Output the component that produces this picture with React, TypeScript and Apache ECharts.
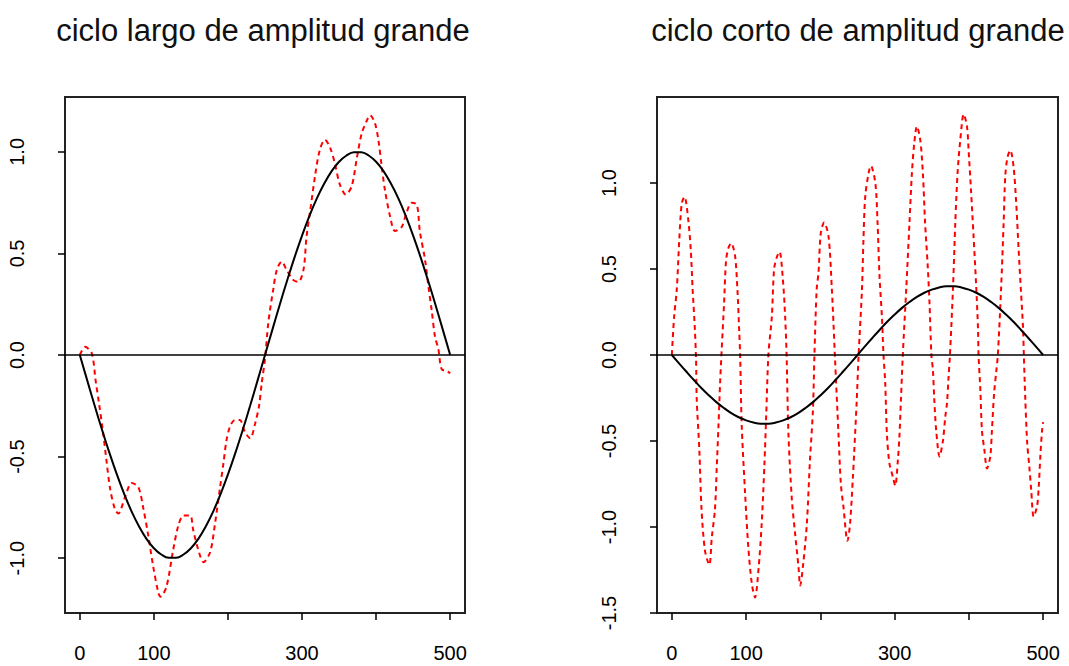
import React, { useEffect, useRef } from "react";
import * as echarts from "echarts";

// Titles
const titles = ["ciclo largo de amplitud grande", "ciclo corto de amplitud grande"];

// X positions of the smooth (long cycle) curve samples
const cycleT = [
  0, 10, 20, 30, 40, 50, 60, 70, 80, 90, 100, 110, 120, 130, 140, 150, 160, 170, 180, 190, 200, 210, 220, 230, 240, 250,
  260, 270, 280, 290, 300, 310, 320, 330, 340, 350, 360, 370, 380, 390, 400, 410, 420, 430, 440, 450, 460, 470, 480, 490, 500,
];
// Long cycle, left panel (black)
const leftBlackV = [
  0, -0.125, -0.249, -0.368, -0.482, -0.588, -0.685, -0.771, -0.844, -0.905, -0.951, -0.982, -0.998, -0.998, -0.982, -0.951, -0.905,
  -0.844, -0.771, -0.685, -0.588, -0.482, -0.368, -0.249, -0.125, 0, 0.125, 0.249, 0.368, 0.482, 0.588, 0.685, 0.771, 0.844, 0.905,
  0.951, 0.982, 0.998, 0.998, 0.982, 0.951, 0.905, 0.844, 0.771, 0.685, 0.588, 0.482, 0.368, 0.249, 0.125, 0,
];
// Long cycle, right panel (black)
const rightBlackV = [
  0, -0.05, -0.099, -0.147, -0.193, -0.235, -0.274, -0.308, -0.338, -0.362, -0.38, -0.393, -0.399, -0.399, -0.393, -0.38, -0.362,
  -0.338, -0.308, -0.274, -0.235, -0.193, -0.147, -0.099, -0.05, 0, 0.05, 0.099, 0.147, 0.193, 0.235, 0.274, 0.308, 0.338, 0.362,
  0.38, 0.393, 0.399, 0.399, 0.393, 0.38, 0.362, 0.338, 0.308, 0.274, 0.235, 0.193, 0.147, 0.099, 0.05, 0,
];

// Left panel red dashed series [t, value]
const leftRed = [
  [0, 0], [7, 0.04], [16, 0.01], [21.5, -0.13], [26, -0.24], [31, -0.37], [36, -0.52], [41, -0.66], [47.5, -0.76], [52, -0.78],
  [61, -0.7], [70, -0.63], [79, -0.65], [86, -0.76], [92.5, -0.89], [99, -1.04], [106, -1.17], [109, -1.19], [117, -1.14], [126, -0.96],
  [133, -0.84], [140, -0.79], [149, -0.79], [153, -0.86], [160, -0.96], [167, -1.02], [176, -0.97], [182.5, -0.83], [189, -0.66], [194, -0.53],
  [198, -0.42], [203, -0.35], [209.5, -0.32], [216, -0.32], [223, -0.38], [230, -0.41], [236.5, -0.34], [242, -0.25], [245.5, -0.14], [250, -0.02],
  [254.5, 0.16], [261, 0.32], [266, 0.42], [272.5, 0.46], [279, 0.42], [288, 0.37], [295, 0.36], [302, 0.42], [306, 0.58], [311, 0.71],
  [317.5, 0.88], [324, 1.01], [331, 1.06], [338, 1.02], [344.5, 0.94], [351, 0.84], [359, 0.79], [367, 0.83], [374, 0.97], [380.5, 1.09],
  [387, 1.15], [392, 1.18], [398.5, 1.14], [403, 1.06], [407.5, 0.93], [412, 0.81], [419, 0.68], [425.5, 0.61], [434.5, 0.63], [441, 0.7],
  [448, 0.75], [455, 0.74], [459, 0.61], [466, 0.47], [470.5, 0.34], [475, 0.22], [479.5, 0.09], [484, 0.03], [488.5, -0.07], [496, -0.08],
  [500, -0.09],
];

// Right panel red dashed series [t, value]
const rightRed = [
  [0, 0], [3, 0.22], [6.6, 0.38], [10, 0.67], [13.3, 0.88], [17, 0.92], [22, 0.79], [25.5, 0.61], [28, 0.38], [31, 0.15],
  [32.6, -0.03], [33.5, -0.26], [37, -0.55], [40, -0.9], [44.7, -1.14], [50.5, -1.22], [53.8, -1.06], [58, -0.9], [60.5, -0.65], [62.7, -0.42],
  [65, -0.16], [67, 0.02], [70.3, 0.3], [73, 0.55], [76, 0.62], [79.8, 0.65], [85, 0.58], [88.3, 0.38], [90.6, 0.15], [92, -0.01],
  [94, -0.4], [98.7, -0.81], [103, -1.12], [107.7, -1.33], [112, -1.41], [116.6, -1.25], [121, -0.98], [124.7, -0.63], [127, -0.36], [130, 0],
  [134.6, 0.22], [137.7, 0.5], [141.4, 0.57], [145, 0.6], [149.5, 0.44], [152.6, 0.22], [154.5, 0], [157, -0.46], [161.6, -0.84], [166, -1.04],
  [170.5, -1.23], [172.8, -1.34], [177, -1.21], [181.8, -0.98], [186, -0.61], [190, -0.32], [192, 0], [195, 0.38], [197.5, 0.48], [200.6, 0.71],
  [205, 0.77], [211, 0.69], [215.5, 0.38], [217.7, 0.18], [219.5, 0], [224.4, -0.46], [227.6, -0.75], [231, -0.88], [236.5, -1.08], [240, -0.98],
  [243.8, -0.71], [245.5, -0.57], [249, -0.26], [251.5, 0], [256, 0.38], [258, 0.67], [260.4, 0.92], [265, 1.06], [268, 1.1], [274, 1.0],
  [277, 0.77], [279.6, 0.46], [282.9, 0.22], [285, 0], [287.3, -0.16], [289.6, -0.46], [293, -0.63], [297.7, -0.71], [300.8, -0.76], [304.4, -0.61],
  [306.6, -0.46], [308.5, -0.26], [311, 0], [315.6, 0.38], [320, 0.77], [323.3, 1.06], [326.4, 1.23], [330, 1.33], [334.5, 1.25], [338, 1.06],
  [341, 0.77], [344.4, 0.53], [347, 0.3], [349.5, 0], [351.6, -0.09], [353.4, -0.26], [356, -0.44], [360.5, -0.59], [365, -0.5], [368.2, -0.36],
  [370.5, -0.28], [372.6, -0.13], [374.5, 0], [378.5, 0.38], [381.7, 0.77], [384.8, 1.06], [388.4, 1.25], [393, 1.4], [397.4, 1.33], [399.6, 1.19],
  [402.8, 0.96], [406.3, 0.69], [409.6, 0.42], [412.3, 0.15], [413, 0], [415.4, -0.2], [417.6, -0.44], [420.8, -0.55], [424.4, -0.66], [428.8, -0.59],
  [431, -0.44], [434, -0.22], [437, -0.09], [439, 0], [443.3, 0.38], [446.8, 0.77], [449, 1.04], [452, 1.15], [455.8, 1.19], [460, 1.1],
  [463.5, 0.9], [467, 0.61], [470, 0.38], [473, 0.15], [474, 0], [476, -0.26], [478.5, -0.51], [481.4, -0.65], [484, -0.79], [487.2, -0.94],
  [491.8, -0.88], [494, -0.77], [496.2, -0.59], [498.5, -0.44], [500, -0.39],
];

// Axis ticks / labels
const xTicks = [0, 100, 200, 300, 400, 500];
const xLabels = [0, 100, 300, 500];
const leftYTicks = [-1, -0.5, 0, 0.5, 1];
const rightYTicks = [-1.5, -1, -0.5, 0, 0.5, 1];

const FONT = "'Liberation Sans', Arial, sans-serif";

export default function App() {
  const ref = useRef<HTMLDivElement>(null);
  useEffect(() => {
    if (!ref.current) return;
    const chart = echarts.init(ref.current, null, { renderer: "svg" });

    const grids = [
      { left: 65, top: 97, width: 400, height: 516 },
      { left: 657, top: 97, width: 401, height: 516 },
    ];

    const mkX = (gi: number) => ({
      type: "value",
      gridIndex: gi,
      min: -20,
      max: 520,
      axisLine: { show: false, onZero: false },
      splitLine: { show: false },
      axisTick: {
        show: true,
        inside: false,
        length: 7,
        customValues: xTicks,
        lineStyle: { color: "#000", width: 1.5 },
      },
      axisLabel: {
        show: true,
        customValues: xLabels,
        margin: 30,
        fontSize: 20,
        fontFamily: FONT,
        color: "#000",
        hideOverlap: false,
      },
    });

    const mkY = (gi: number, min: number, max: number, ticks: number[]) => ({
      type: "value",
      gridIndex: gi,
      min,
      max,
      axisLine: { show: false, onZero: false },
      splitLine: { show: false },
      axisTick: {
        show: true,
        inside: false,
        length: 7,
        customValues: ticks,
        lineStyle: { color: "#000", width: 1.5 },
      },
      axisLabel: {
        show: true,
        customValues: ticks,
        rotate: 90,
        margin: 38,
        fontSize: 20,
        fontFamily: FONT,
        color: "#000",
        hideOverlap: false,
        formatter: (v: number) => v.toFixed(1),
      },
    });

    const zeroLine = {
      silent: true,
      symbol: ["none", "none"],
      label: { show: false },
      lineStyle: { color: "#000", width: 1.5, type: "solid" },
      data: [{ yAxis: 0 }],
    };

    const redStyle = { color: "#ff0000", width: 2, type: [5, 4] };

    chart.setOption({
      animation: false,
      grid: grids.map((g) => ({ ...g, show: true, borderColor: "#222", borderWidth: 2, backgroundColor: "transparent" })),
      xAxis: [mkX(0), mkX(1)],
      yAxis: [mkY(0, -1.27, 1.27, leftYTicks), mkY(1, -1.5, 1.5, rightYTicks)],
      graphic: [
        {
          type: "text",
          x: 263,
          y: 30,
          style: { text: titles[0], fontSize: 31, fontFamily: FONT, fill: "#111", align: "center", verticalAlign: "middle" },
        },
        {
          type: "text",
          x: 858,
          y: 30,
          style: { text: titles[1], fontSize: 31, fontFamily: FONT, fill: "#111", align: "center", verticalAlign: "middle" },
        },
      ],
      series: [
        {
          type: "line",
          xAxisIndex: 0,
          yAxisIndex: 0,
          data: leftRed,
          showSymbol: false,
          smooth: 0.3,
          lineStyle: redStyle,
          z: 2,
        },
        {
          type: "line",
          xAxisIndex: 0,
          yAxisIndex: 0,
          data: cycleT.map((t, i) => [t, leftBlackV[i]]),
          showSymbol: false,
          smooth: 0.4,
          lineStyle: { color: "#000", width: 2 },
          markLine: zeroLine,
          z: 3,
        },
        {
          type: "line",
          xAxisIndex: 1,
          yAxisIndex: 1,
          data: rightRed,
          showSymbol: false,
          smooth: 0.3,
          lineStyle: redStyle,
          z: 2,
        },
        {
          type: "line",
          xAxisIndex: 1,
          yAxisIndex: 1,
          data: cycleT.map((t, i) => [t, rightBlackV[i]]),
          showSymbol: false,
          smooth: 0.4,
          lineStyle: { color: "#000", width: 2 },
          markLine: zeroLine,
          z: 3,
        },
      ],
    });
    return () => chart.dispose();
  }, []);
  return (
    <div
      ref={ref}
      style={{ position: "fixed", left: 0, top: 0, width: 1069, height: 666, background: "#fff" }}
    />
  );
}
